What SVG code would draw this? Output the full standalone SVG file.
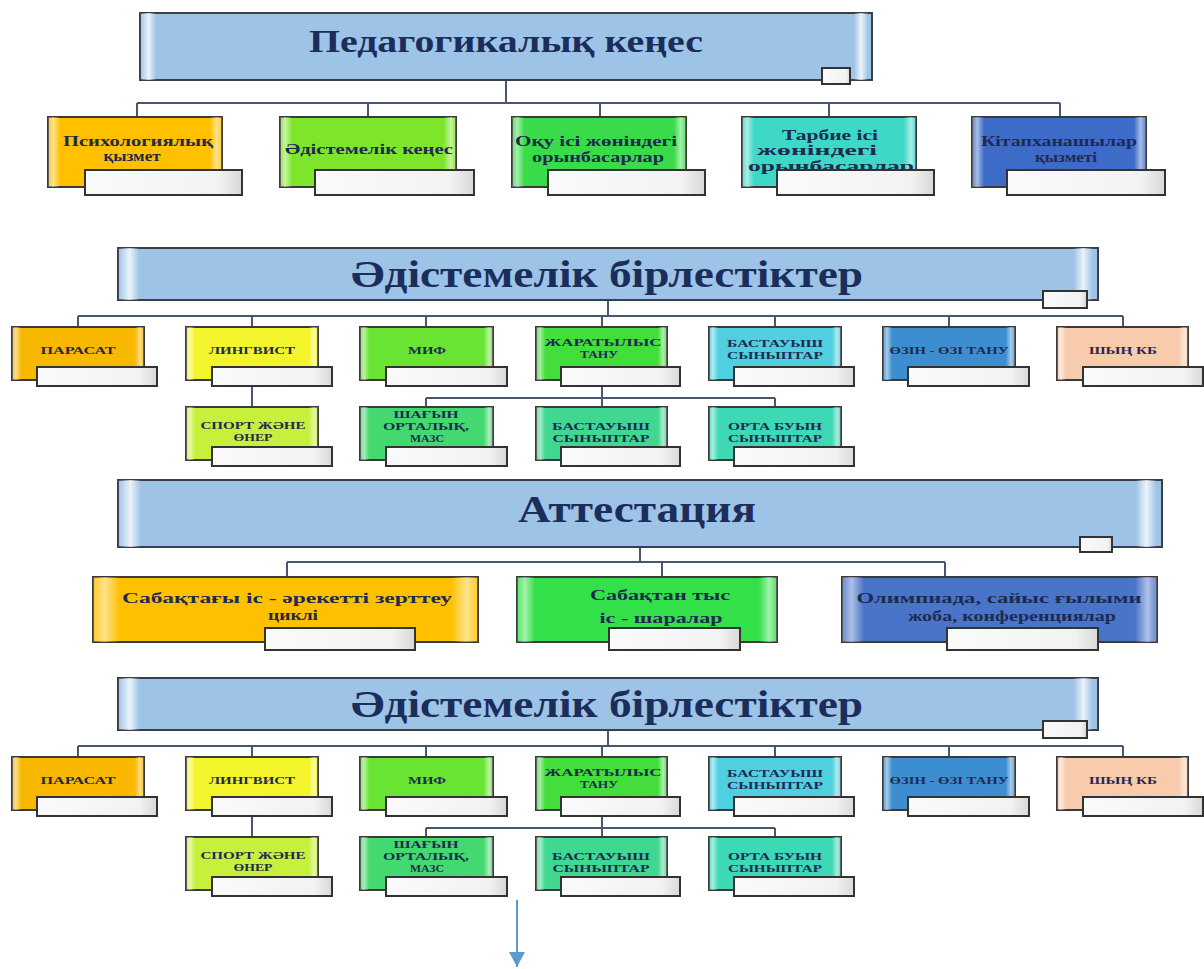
<svg xmlns="http://www.w3.org/2000/svg" width="1204" height="969" viewBox="0 0 1204 969">
<defs>
<linearGradient id="gloss" x1="0" y1="0" x2="1" y2="0">
<stop offset="0" stop-color="#fff" stop-opacity="0.15"/>
<stop offset="0.03" stop-color="#fff" stop-opacity="0.55"/>
<stop offset="0.07" stop-color="#fff" stop-opacity="0"/>
<stop offset="0.93" stop-color="#fff" stop-opacity="0"/>
<stop offset="0.97" stop-color="#fff" stop-opacity="0.55"/>
<stop offset="1" stop-color="#fff" stop-opacity="0.15"/>
</linearGradient>
<linearGradient id="hgloss" x1="0" y1="0" x2="1" y2="0">
<stop offset="0" stop-color="#fff" stop-opacity="0"/>
<stop offset="0.012" stop-color="#fff" stop-opacity="0.8"/>
<stop offset="0.022" stop-color="#fff" stop-opacity="0"/>
<stop offset="0.975" stop-color="#fff" stop-opacity="0"/>
<stop offset="0.985" stop-color="#fff" stop-opacity="0.8"/>
<stop offset="0.995" stop-color="#fff" stop-opacity="0"/>
</linearGradient>
<linearGradient id="white" x1="0" y1="0" x2="1" y2="0">
<stop offset="0" stop-color="#fafafa"/>
<stop offset="0.85" stop-color="#f2f2f2"/>
<stop offset="1" stop-color="#d8d8d8"/>
</linearGradient>
<marker id="arr" markerWidth="16" markerHeight="16" refX="15" refY="8" orient="auto" markerUnits="userSpaceOnUse">
<path d="M0,0 L15,8 L0,16 Z" fill="#5B9BD5"/>
</marker>
</defs>
<style>
.hdr{fill:#9DC3E6;stroke:#3a3f4a;stroke-width:2}
.box{stroke:#3a3a3a;stroke-width:2}
.gl{fill:url(#gloss);stroke:none}
.hg{fill:url(#hgloss);stroke:none}
.sm{fill:url(#white);stroke:#333;stroke-width:2}
text{font-family:"Liberation Serif","DejaVu Serif",serif;font-weight:bold;text-anchor:middle}
.title{fill:#1B2D5A}
.t{fill:#1E2A50;font-size:14px}
.s{fill:#1E2A50;font-size:10.5px}
.c{fill:none;stroke:#4a5670;stroke-width:2}
</style>
<rect width="1204" height="969" fill="#fff"/>

<g id="connectors">
<path class="c" d="M506,80 V103 M137,103 H1060 M137,103 V117 M368,103 V117 M600,103 V117 M829,103 V117 M1060,103 V117"/>
<path class="c" d="M608,300 V316 M78,316 H1123 M78,316 V327 M252,316 V327 M426,316 V327 M602,316 V327 M775,316 V327 M949,316 V327 M1123,316 V327"/>
<path class="c" d="M252,386 V407 M602,386 V398 M426,398 H775 M426,398 V407 M602,398 V407 M775,398 V407"/>
<path class="c" d="M640,547 V562 M287,562 H945 M287,562 V577 M662,562 V577 M945,562 V577"/>
<path class="c" d="M608,730 V746 M78,746 H1123 M78,746 V757 M252,746 V757 M426,746 V757 M602,746 V757 M775,746 V757 M949,746 V757 M1123,746 V757"/>
<path class="c" d="M252,816 V837 M602,816 V828 M426,828 H775 M426,828 V837 M602,828 V837 M775,828 V837"/>
<line x1="517" y1="900" x2="517" y2="967" stroke="#5B9BD5" stroke-width="2" marker-end="url(#arr)"/>
</g>

<!-- Section 1 -->
<g id="h1">
<rect class="hdr" x="140" y="13" width="732" height="67"/>
<rect class="hg" x="140" y="13" width="732" height="67"/>
<text class="title" x="506" y="52" font-size="32" textLength="394" lengthAdjust="spacingAndGlyphs">Педагогикалық кеңес</text>
<rect class="sm" x="822" y="68" width="28" height="16"/>
</g>
<g id="n1_1">
<rect class="box" x="48" y="117" width="174" height="70" fill="#FFC000"/>
<rect class="gl" x="48" y="117" width="174" height="70"/>
<text class="t" x="138" y="146" textLength="150" lengthAdjust="spacingAndGlyphs">Психологиялық</text>
<text class="t" x="132" y="161" textLength="57" lengthAdjust="spacingAndGlyphs">қызмет</text>
<rect class="sm" x="85" y="170" width="157" height="25"/>
</g>
<g id="n1_2">
<rect class="box" x="280" y="117" width="176" height="70" fill="#7EE62A"/>
<rect class="gl" x="280" y="117" width="176" height="70"/>
<text class="t" x="369" y="154" textLength="168" lengthAdjust="spacingAndGlyphs">Әдістемелік кеңес</text>
<rect class="sm" x="315" y="170" width="159" height="25"/>
</g>
<g id="n1_3">
<rect class="box" x="512" y="117" width="174" height="70" fill="#3ADB4A"/>
<rect class="gl" x="512" y="117" width="174" height="70"/>
<text class="t" x="596" y="146" textLength="162" lengthAdjust="spacingAndGlyphs">Оқу ісі жөніндегі</text>
<text class="t" x="598" y="162" textLength="132" lengthAdjust="spacingAndGlyphs">орынбасарлар</text>
<rect class="sm" x="548" y="170" width="157" height="25"/>
</g>
<g id="n1_4">
<rect class="box" x="742" y="117" width="174" height="70" fill="#3DD8C6"/>
<rect class="gl" x="742" y="117" width="174" height="70"/>
<text class="t" x="830" y="140" textLength="96" lengthAdjust="spacingAndGlyphs">Тарбие ісі</text>
<text class="t" x="817" y="155" textLength="120" lengthAdjust="spacingAndGlyphs">жөніндегі</text>
<text class="t" x="831" y="171" textLength="166" lengthAdjust="spacingAndGlyphs">орынбасарлар</text>
<rect class="sm" x="777" y="170" width="157" height="25"/>
</g>
<g id="n1_5">
<rect class="box" x="972" y="117" width="174" height="70" fill="#3D6CC8"/>
<rect class="gl" x="972" y="117" width="174" height="70"/>
<text class="t" x="1059" y="146" textLength="156" lengthAdjust="spacingAndGlyphs">Кітапханашылар</text>
<text class="t" x="1066" y="162" textLength="62" lengthAdjust="spacingAndGlyphs">қызметі</text>
<rect class="sm" x="1007" y="170" width="158" height="25"/>
</g>

<!-- Section 2 -->
<g id="h2">
<rect class="hdr" x="118" y="248" width="980" height="52"/>
<rect class="hg" x="118" y="248" width="980" height="52"/>
<text class="title" x="607" y="287" font-size="38" textLength="512" lengthAdjust="spacingAndGlyphs">Әдістемелік бірлестіктер</text>
<rect class="sm" x="1043" y="291" width="44" height="17"/>
</g>
<g id="n2_1"><rect class="box" x="12" y="327" width="132" height="53" fill="#F9B800"/><rect class="gl" x="12" y="327" width="132" height="53"/><text class="s" x="78" y="354" textLength="75" lengthAdjust="spacingAndGlyphs">ПАРАСАТ</text><rect class="sm" x="37" y="367" width="120" height="19"/></g>
<g id="n2_2"><rect class="box" x="186" y="327" width="132" height="53" fill="#F4F42C"/><rect class="gl" x="186" y="327" width="132" height="53"/><text class="s" x="252" y="354" textLength="86" lengthAdjust="spacingAndGlyphs">ЛИНГВИСТ</text><rect class="sm" x="212" y="367" width="120" height="19"/></g>
<g id="n2_3"><rect class="box" x="360" y="327" width="133" height="53" fill="#6AE432"/><rect class="gl" x="360" y="327" width="133" height="53"/><text class="s" x="427" y="354" textLength="38" lengthAdjust="spacingAndGlyphs">МИФ</text><rect class="sm" x="386" y="367" width="121" height="19"/></g>
<g id="n2_4"><rect class="box" x="536" y="327" width="131" height="53" fill="#44DE3C"/><rect class="gl" x="536" y="327" width="131" height="53"/><text class="s" x="603" y="346" textLength="117" lengthAdjust="spacingAndGlyphs">ЖАРАТЫЛЫС</text><text class="s" x="599" y="358" textLength="38" lengthAdjust="spacingAndGlyphs">ТАНУ</text><rect class="sm" x="561" y="367" width="119" height="19"/></g>
<g id="n2_5"><rect class="box" x="709" y="327" width="132" height="53" fill="#4FCFE0"/><rect class="gl" x="709" y="327" width="132" height="53"/><text class="s" x="775" y="347" textLength="96" lengthAdjust="spacingAndGlyphs">БАСТАУЫШ</text><text class="s" x="775" y="359" textLength="96" lengthAdjust="spacingAndGlyphs">СЫНЫПТАР</text><rect class="sm" x="734" y="367" width="120" height="19"/></g>
<g id="n2_6"><rect class="box" x="883" y="327" width="132" height="53" fill="#3C8ED0"/><rect class="gl" x="883" y="327" width="132" height="53"/><text class="s" x="949" y="354" textLength="119" lengthAdjust="spacingAndGlyphs">ӨЗІН - ӨЗІ ТАНУ</text><rect class="sm" x="908" y="367" width="121" height="19"/></g>
<g id="n2_7"><rect class="box" x="1057" y="327" width="131" height="53" fill="#F8CBAD"/><rect class="gl" x="1057" y="327" width="131" height="53"/><text class="s" x="1123" y="354" textLength="68" lengthAdjust="spacingAndGlyphs">ШЫҢ КБ</text><rect class="sm" x="1083" y="367" width="120" height="19"/></g>
<g id="n2_8"><rect class="box" x="186" y="407" width="132" height="53" fill="#C6F03C"/><rect class="gl" x="186" y="407" width="132" height="53"/><text class="s" x="253" y="429" textLength="105" lengthAdjust="spacingAndGlyphs">СПОРТ ЖӘНЕ</text><text class="s" x="253" y="441" textLength="39" lengthAdjust="spacingAndGlyphs">ӨНЕР</text><rect class="sm" x="212" y="447" width="120" height="19"/></g>
<g id="n2_9"><rect class="box" x="360" y="407" width="133" height="53" fill="#44D870"/><rect class="gl" x="360" y="407" width="133" height="53"/><text class="s" x="426" y="418" textLength="65" lengthAdjust="spacingAndGlyphs">ШАҒЫН</text><text class="s" x="426" y="430" textLength="86" lengthAdjust="spacingAndGlyphs">ОРТАЛЫҚ,</text><text class="s" x="427" y="442" textLength="34" lengthAdjust="spacingAndGlyphs">МАЗС</text><rect class="sm" x="386" y="447" width="121" height="19"/></g>
<g id="n2_10"><rect class="box" x="536" y="407" width="131" height="53" fill="#40D890"/><rect class="gl" x="536" y="407" width="131" height="53"/><text class="s" x="601" y="430" textLength="98" lengthAdjust="spacingAndGlyphs">БАСТАУЫШ</text><text class="s" x="601" y="442" textLength="97" lengthAdjust="spacingAndGlyphs">СЫНЫПТАР</text><rect class="sm" x="561" y="447" width="119" height="19"/></g>
<g id="n2_11"><rect class="box" x="709" y="407" width="132" height="53" fill="#3DD8B4"/><rect class="gl" x="709" y="407" width="132" height="53"/><text class="s" x="775" y="430" textLength="94" lengthAdjust="spacingAndGlyphs">ОРТА БУЫН</text><text class="s" x="775" y="442" textLength="94" lengthAdjust="spacingAndGlyphs">СЫНЫПТАР</text><rect class="sm" x="734" y="447" width="120" height="19"/></g>

<!-- Section 3 -->
<g id="h3">
<rect class="hdr" x="118" y="480" width="1044" height="67"/>
<rect class="hg" x="118" y="480" width="1044" height="67"/>
<text class="title" x="637" y="522" font-size="38" textLength="238" lengthAdjust="spacingAndGlyphs">Аттестация</text>
<rect class="sm" x="1080" y="537" width="32" height="15"/>
</g>
<g id="n3_1">
<rect class="box" x="93" y="577" width="385" height="65" fill="#FFC000"/>
<rect class="gl" x="93" y="577" width="385" height="65"/>
<text class="t" x="287" y="603" font-size="15" textLength="330" lengthAdjust="spacingAndGlyphs">Сабақтағы іс - әрекетті  зерттеу</text>
<text class="t" x="293" y="620" font-size="15" textLength="50" lengthAdjust="spacingAndGlyphs">циклі</text>
<rect class="sm" x="265" y="628" width="150" height="22"/>
</g>
<g id="n3_2">
<rect class="box" x="517" y="577" width="260" height="65" fill="#33E04A"/>
<rect class="gl" x="517" y="577" width="260" height="65"/>
<text class="t" x="660" y="600" font-size="14" textLength="140" lengthAdjust="spacingAndGlyphs" fill="#1C4A48">Сабақтан тыс</text>
<text class="t" x="661" y="623" font-size="14" textLength="123" lengthAdjust="spacingAndGlyphs" fill="#1C4A48">іс - шаралар</text>
<rect class="sm" x="609" y="628" width="131" height="22"/>
</g>
<g id="n3_3">
<rect class="box" x="842" y="577" width="315" height="65" fill="#4A74C8"/>
<rect class="gl" x="842" y="577" width="315" height="65"/>
<text class="t" x="999" y="603" font-size="15" textLength="285" lengthAdjust="spacingAndGlyphs">Олимпиада, сайыс ғылыми</text>
<text class="t" x="1012" y="621" font-size="15" textLength="208" lengthAdjust="spacingAndGlyphs">жоба, конференциялар</text>
<rect class="sm" x="947" y="628" width="151" height="22"/>
</g>

<!-- Section 4 -->
<g id="h4">
<rect class="hdr" x="118" y="678" width="980" height="52"/>
<rect class="hg" x="118" y="678" width="980" height="52"/>
<text class="title" x="607" y="717" font-size="38" textLength="512" lengthAdjust="spacingAndGlyphs">Әдістемелік бірлестіктер</text>
<rect class="sm" x="1043" y="721" width="44" height="17"/>
</g>
<g id="n4_1"><rect class="box" x="12" y="757" width="132" height="53" fill="#F9B800"/><rect class="gl" x="12" y="757" width="132" height="53"/><text class="s" x="78" y="784" textLength="75" lengthAdjust="spacingAndGlyphs">ПАРАСАТ</text><rect class="sm" x="37" y="797" width="120" height="19"/></g>
<g id="n4_2"><rect class="box" x="186" y="757" width="132" height="53" fill="#F4F42C"/><rect class="gl" x="186" y="757" width="132" height="53"/><text class="s" x="252" y="784" textLength="86" lengthAdjust="spacingAndGlyphs">ЛИНГВИСТ</text><rect class="sm" x="212" y="797" width="120" height="19"/></g>
<g id="n4_3"><rect class="box" x="360" y="757" width="133" height="53" fill="#6AE432"/><rect class="gl" x="360" y="757" width="133" height="53"/><text class="s" x="427" y="784" textLength="38" lengthAdjust="spacingAndGlyphs">МИФ</text><rect class="sm" x="386" y="797" width="121" height="19"/></g>
<g id="n4_4"><rect class="box" x="536" y="757" width="131" height="53" fill="#44DE3C"/><rect class="gl" x="536" y="757" width="131" height="53"/><text class="s" x="603" y="776" textLength="117" lengthAdjust="spacingAndGlyphs">ЖАРАТЫЛЫС</text><text class="s" x="599" y="788" textLength="38" lengthAdjust="spacingAndGlyphs">ТАНУ</text><rect class="sm" x="561" y="797" width="119" height="19"/></g>
<g id="n4_5"><rect class="box" x="709" y="757" width="132" height="53" fill="#4FCFE0"/><rect class="gl" x="709" y="757" width="132" height="53"/><text class="s" x="775" y="777" textLength="96" lengthAdjust="spacingAndGlyphs">БАСТАУЫШ</text><text class="s" x="775" y="789" textLength="96" lengthAdjust="spacingAndGlyphs">СЫНЫПТАР</text><rect class="sm" x="734" y="797" width="120" height="19"/></g>
<g id="n4_6"><rect class="box" x="883" y="757" width="132" height="53" fill="#3C8ED0"/><rect class="gl" x="883" y="757" width="132" height="53"/><text class="s" x="949" y="784" textLength="119" lengthAdjust="spacingAndGlyphs">ӨЗІН - ӨЗІ ТАНУ</text><rect class="sm" x="908" y="797" width="121" height="19"/></g>
<g id="n4_7"><rect class="box" x="1057" y="757" width="131" height="53" fill="#F8CBAD"/><rect class="gl" x="1057" y="757" width="131" height="53"/><text class="s" x="1123" y="784" textLength="68" lengthAdjust="spacingAndGlyphs">ШЫҢ КБ</text><rect class="sm" x="1083" y="797" width="120" height="19"/></g>
<g id="n4_8"><rect class="box" x="186" y="837" width="132" height="53" fill="#C6F03C"/><rect class="gl" x="186" y="837" width="132" height="53"/><text class="s" x="253" y="859" textLength="105" lengthAdjust="spacingAndGlyphs">СПОРТ ЖӘНЕ</text><text class="s" x="253" y="871" textLength="39" lengthAdjust="spacingAndGlyphs">ӨНЕР</text><rect class="sm" x="212" y="877" width="120" height="19"/></g>
<g id="n4_9"><rect class="box" x="360" y="837" width="133" height="53" fill="#44D870"/><rect class="gl" x="360" y="837" width="133" height="53"/><text class="s" x="426" y="848" textLength="65" lengthAdjust="spacingAndGlyphs">ШАҒЫН</text><text class="s" x="426" y="860" textLength="86" lengthAdjust="spacingAndGlyphs">ОРТАЛЫҚ,</text><text class="s" x="427" y="872" textLength="34" lengthAdjust="spacingAndGlyphs">МАЗС</text><rect class="sm" x="386" y="877" width="121" height="19"/></g>
<g id="n4_10"><rect class="box" x="536" y="837" width="131" height="53" fill="#40D890"/><rect class="gl" x="536" y="837" width="131" height="53"/><text class="s" x="601" y="860" textLength="98" lengthAdjust="spacingAndGlyphs">БАСТАУЫШ</text><text class="s" x="601" y="872" textLength="97" lengthAdjust="spacingAndGlyphs">СЫНЫПТАР</text><rect class="sm" x="561" y="877" width="119" height="19"/></g>
<g id="n4_11"><rect class="box" x="709" y="837" width="132" height="53" fill="#3DD8B4"/><rect class="gl" x="709" y="837" width="132" height="53"/><text class="s" x="775" y="860" textLength="94" lengthAdjust="spacingAndGlyphs">ОРТА БУЫН</text><text class="s" x="775" y="872" textLength="94" lengthAdjust="spacingAndGlyphs">СЫНЫПТАР</text><rect class="sm" x="734" y="877" width="120" height="19"/></g>
</svg>
